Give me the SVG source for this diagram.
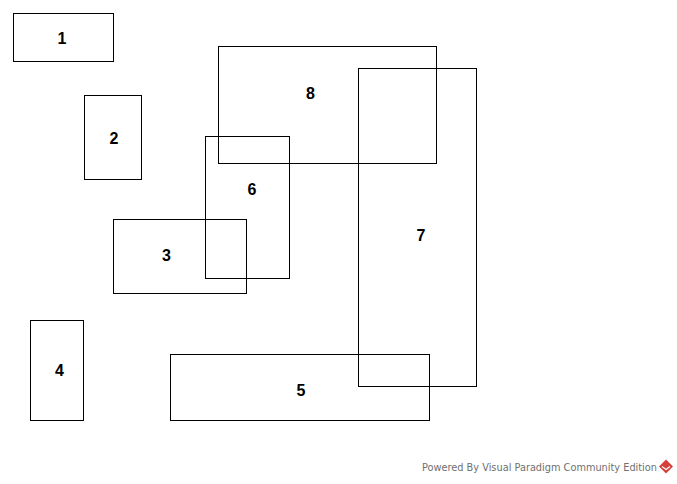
<svg xmlns="http://www.w3.org/2000/svg" width="677" height="484" viewBox="0 0 677 484">
<style>
.box{fill:none;stroke:#000;stroke-width:1}
.lbl{font-family:"Liberation Sans",Arial,sans-serif;font-weight:bold;font-size:16px;fill:#000;text-anchor:middle}
.wm{font-family:"DejaVu Sans","Liberation Sans",sans-serif;font-size:10px;fill:#707070}
</style>
<rect x="0" y="0" width="677" height="484" fill="#fff"/>
<g id="node-1"><rect class="box" x="13.5" y="13.5" width="100" height="48"/><text class="lbl" x="62" y="44">1</text></g>
<g id="node-2"><rect class="box" x="84.5" y="95.5" width="57" height="84"/><text class="lbl" x="114" y="144">2</text></g>
<g id="node-8"><rect class="box" x="218.5" y="46.5" width="218" height="117"/><text class="lbl" x="310.5" y="99">8</text></g>
<g id="node-7"><rect class="box" x="358.5" y="68.5" width="118" height="318"/><text class="lbl" x="421" y="241">7</text></g>
<g id="node-6"><rect class="box" x="205.5" y="136.5" width="84" height="142"/><text class="lbl" x="252" y="195">6</text></g>
<g id="node-3"><rect class="box" x="113.5" y="219.5" width="133" height="74"/><text class="lbl" x="166.5" y="260.5">3</text></g>
<g id="node-4"><rect class="box" x="30.5" y="320.5" width="53" height="100"/><text class="lbl" x="59.5" y="375.5">4</text></g>
<g id="node-5"><rect class="box" x="170.5" y="354.5" width="259" height="66"/><text class="lbl" x="301" y="396">5</text></g>
<g id="connectors"></g>
<g id="watermark">
<text class="wm" x="422" y="471" textLength="235" lengthAdjust="spacingAndGlyphs">Powered By Visual Paradigm Community Edition</text>
<polygon points="666,459.5 673,466.5 666,473.5 659,466.5" fill="#d6403a"/>
<polyline points="662,466.5 666,469.5 670,466.5" fill="none" stroke="#fff" stroke-width="1.2"/>
</g>
</svg>
